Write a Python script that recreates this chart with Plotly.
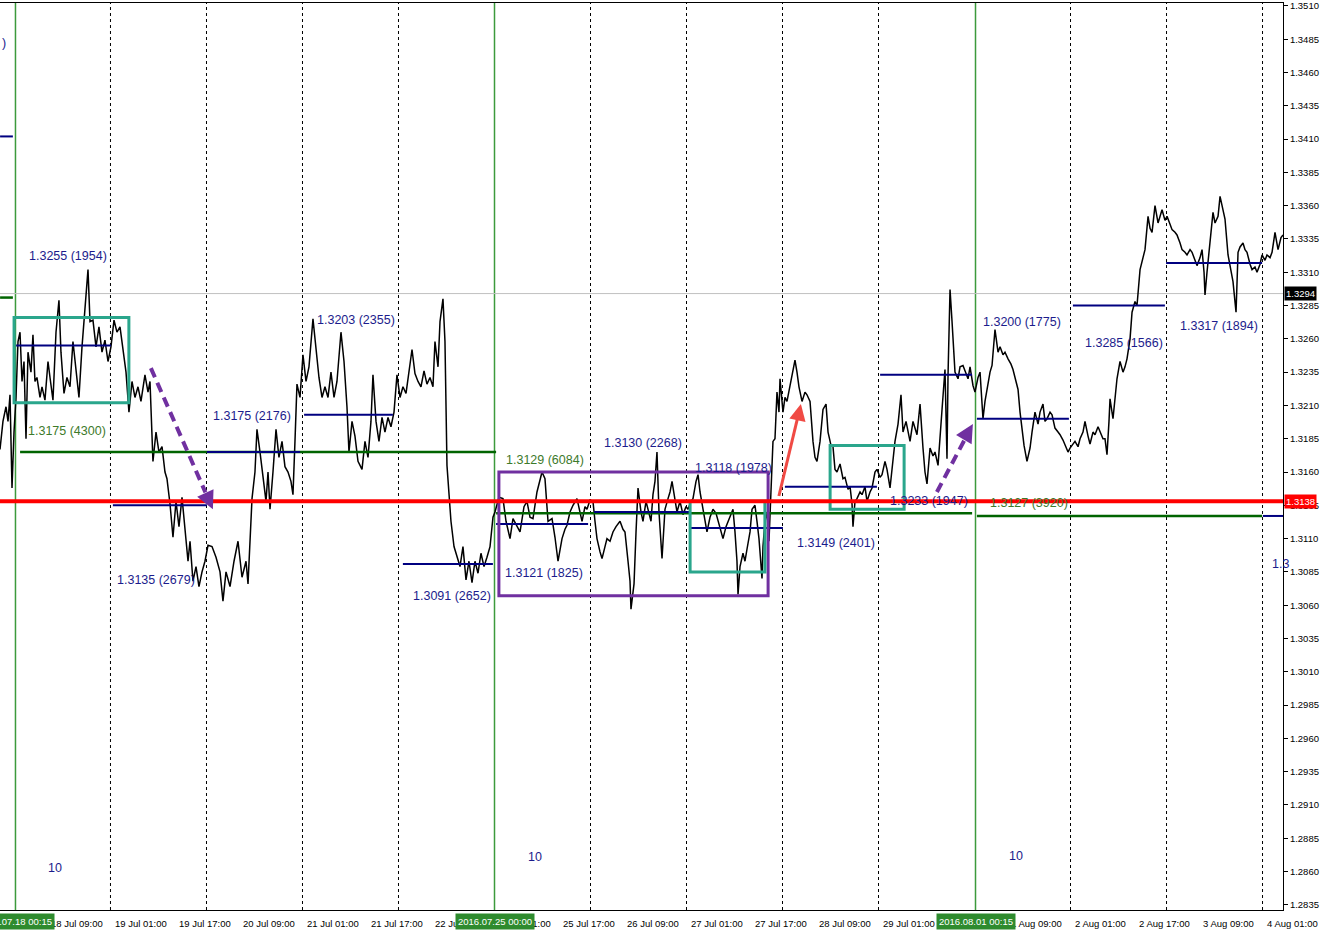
import plotly.graph_objects as go
from datetime import datetime, timedelta

# ---------------- data ----------------
# time in trading hours since Mon 2016-07-18 00:00 (weekends removed), price
price_hours = [
    -3.62, -2.88, -2.12, -1.62, -1.12, -0.62, -0.12,
    0.38, 0.88, 1.38, 1.88, 2.38, 2.88, 3.38, 4.12, 4.62, 5.12, 5.62, 6.38, 6.88, 7.62,
    8.38, 8.88, 9.62, 10.38, 11.12, 11.62, 12.38, 13.12, 13.88, 14.62, 15.38, 16.12, 16.88,
    17.62, 18.38, 18.88, 19.62, 20.38, 21.12, 21.88, 22.62, 23.38, 24.12, 24.88, 25.62,
    26.38, 27.12, 27.88, 28.62, 29.38, 30.12, 30.88, 31.62, 32.62, 33.38, 33.88, 34.62,
    35.38, 36.12, 36.88, 37.62, 38.12, 38.88, 39.62, 40.38, 41.12, 41.88, 42.62, 43.38,
    43.88, 44.62, 45.38, 46.12, 46.88, 47.62, 48.38, 49.38, 50.38, 51.38, 52.12, 52.88,
    53.88, 54.88, 55.88, 56.88, 57.88, 58.38, 58.88, 59.38, 60.12, 60.62, 61.38, 62.12,
    62.88, 63.38, 63.88, 64.62, 65.38, 66.12, 66.88, 67.62, 68.38, 69.12, 69.62, 70.12,
    70.62, 71.38, 72.12, 72.88, 73.62, 74.62, 75.38, 76.12, 76.88, 77.62, 78.38, 79.12,
    79.88, 80.62, 81.62, 82.38, 83.12, 83.62, 84.38, 85.12, 85.88, 86.88, 87.62, 88.38,
    89.12, 89.62, 90.38, 91.12, 91.88, 92.62, 93.38, 94.12, 94.88, 95.62, 96.38, 97.12,
    97.88, 98.62, 99.38, 100.12, 100.88, 101.62, 102.38, 103.12, 103.88, 104.62, 105.12,
    105.88, 106.38, 107.12, 107.62, 108.12, 108.62, 109.12, 109.88, 110.62, 111.38, 112.12,
    112.88, 113.62, 114.38, 115.12, 115.88, 116.62, 117.38, 118.12, 118.88, 119.62,
    120.12, 121.12, 122.12, 122.88, 123.88, 124.62, 125.62, 126.38, 127.38, 128.12, 128.88,
    129.62, 130.62, 131.38, 131.88, 132.62, 133.38, 134.38, 135.12, 135.88, 136.88, 137.62,
    138.12, 138.88, 139.62, 140.62, 141.38, 141.88, 142.62, 143.12, 143.88, 144.62, 145.12,
    145.62, 146.38, 146.88, 147.62, 148.12, 148.88, 149.62, 150.38, 151.38, 152.12, 152.62,
    153.38, 153.88, 154.12, 154.88, 155.38, 155.88, 156.62, 157.12, 157.88, 158.38, 159.12,
    159.62, 160.12, 160.62, 161.12, 161.88, 162.62, 163.38, 163.88, 164.38, 165.12, 165.62,
    166.38, 167.12, 167.88, 168.38, 169.12, 169.62, 170.38, 170.88, 171.38, 171.88, 172.62,
    173.12, 173.88, 174.62, 175.38, 175.88, 176.62, 177.12, 177.88, 178.38, 179.12, 179.62,
    180.12, 180.62, 180.88, 181.38, 182.12, 182.62, 183.12, 183.88, 184.38, 185.12, 185.62,
    186.12, 186.88, 187.12, 187.62, 188.12, 188.62, 189.12, 189.62, 190.12, 190.62, 191.12,
    191.38, 192.12, 192.62, 193.12, 193.88, 194.38, 195.12, 195.62, 196.12, 196.88, 197.62,
    198.12, 198.88, 199.62, 200.12, 200.62, 201.38, 202.12, 202.88, 203.38, 204.12, 204.62,
    205.12, 205.62, 206.38, 207.12, 207.62, 208.38, 208.88, 209.38, 209.62, 210.12, 210.62,
    211.38, 211.88, 212.62, 213.12, 213.88, 214.38, 215.12, 215.62, 216.38, 216.88, 217.62,
    218.12, 218.88, 219.62, 220.12, 220.88, 221.62, 222.12, 222.88, 223.88, 224.62, 225.62,
    226.38, 227.12, 227.62, 228.12, 228.88, 229.62, 230.12, 230.88, 231.38, 231.88, 232.62,
    233.12, 233.38, 233.88, 234.38, 234.62, 235.12, 235.88, 236.38, 237.12, 237.88, 238.38,
    238.88, 239.62,
    240.12, 240.88, 241.38, 242.12, 242.62, 243.12, 243.88, 244.38, 245.12, 245.88, 246.38,
    247.12, 247.62, 248.38, 249.12, 249.62, 250.38, 250.88, 251.38, 251.88, 252.38, 253.12,
    253.88, 254.38, 255.12, 255.88, 256.38, 257.12, 257.62, 258.12, 258.88, 259.38, 260.12,
    260.88, 261.38, 262.12, 262.62, 263.38, 263.88, 264.62, 265.12, 265.88, 266.38, 267.12,
    267.62, 268.38, 268.88, 269.62, 270.12, 270.88, 271.38, 272.12, 272.62, 273.12, 273.62,
    273.88, 274.62, 275.12, 275.62, 276.38, 277.12, 277.62, 278.12, 278.88, 279.38, 280.12,
    280.62, 281.38, 282.12, 282.62, 283.38, 283.88, 284.38, 285.12, 285.88, 286.38, 286.88,
    287.62, 288.12, 288.88, 289.38, 290.12, 290.62, 291.38, 291.88, 292.62, 293.12, 293.88,
    294.38, 295.12, 295.62, 296.38, 296.88, 297.38, 297.62, 298.12, 298.38, 298.88, 299.62,
    300.12, 300.88, 301.38, 301.88, 302.62, 303.38, 303.88, 304.62, 305.38, 305.88, 306.38,
    307.12, 307.62, 308.12, 308.88, 309.38, 310.12, 310.62, 311.38, 311.88, 312.62, 313.12,
    313.88, 314.38, 315.12, 315.88, 316.62, 317.12,
]
price_values = [
    1.3177, 1.3198, 1.3209, 1.3198, 1.3218, 1.3148, 1.3190,
    1.3216, 1.3258, 1.3265, 1.3228, 1.3243, 1.3185, 1.3250, 1.3235, 1.3263, 1.3228, 1.3231, 1.3216, 1.3224, 1.3214,
    1.3243, 1.3231, 1.3214, 1.3265, 1.3289, 1.3250, 1.3219, 1.3231, 1.3224, 1.3258, 1.3239, 1.3216, 1.3254,
    1.3280, 1.3312, 1.3273, 1.3274, 1.3254, 1.3269, 1.3250, 1.3259, 1.3243, 1.3254, 1.3274, 1.3265,
    1.3269, 1.3250, 1.3235, 1.3205, 1.3228, 1.3216, 1.3224, 1.3213, 1.3233, 1.3220, 1.3228, 1.3168,
    1.3190, 1.3175, 1.3179, 1.3160, 1.3155, 1.3136, 1.3111, 1.3138, 1.3119, 1.3141, 1.3115, 1.3093,
    1.3108, 1.3078, 1.3089, 1.3074, 1.3085, 1.3093, 1.3105, 1.3104, 1.3096, 1.3085, 1.3063, 1.3085,
    1.3074, 1.3093, 1.3108, 1.3081, 1.3093, 1.3076, 1.3108, 1.3140, 1.3160, 1.3192, 1.3175, 1.3157,
    1.3138, 1.3160, 1.3132, 1.3160, 1.3192, 1.3171, 1.3183, 1.3164, 1.3160, 1.3153, 1.3143, 1.3183,
    1.3226, 1.3216, 1.3248, 1.3228, 1.3239, 1.3275, 1.3250, 1.3231, 1.3216, 1.3224, 1.3216, 1.3235,
    1.3216, 1.3228, 1.3265, 1.3243, 1.3209, 1.3175, 1.3198, 1.3187, 1.3168, 1.3162, 1.3183, 1.3171,
    1.3198, 1.3233, 1.3198, 1.3183, 1.3201, 1.3190, 1.3201, 1.3194, 1.3205, 1.3233, 1.3216, 1.3224,
    1.3219, 1.3235, 1.3252, 1.3234, 1.3228, 1.3224, 1.3236, 1.3226, 1.3231, 1.3224, 1.3258,
    1.3239, 1.3273, 1.3290, 1.3258, 1.3165, 1.3145, 1.3123, 1.3104, 1.3096, 1.3089, 1.3104,
    1.3079, 1.3093, 1.3077, 1.3093, 1.3084, 1.3099, 1.3089, 1.3096, 1.3104, 1.3126,
    1.3130, 1.3141, 1.3140, 1.3123, 1.3110, 1.3125, 1.3119, 1.3115, 1.3134, 1.3138, 1.3126,
    1.3125, 1.3145, 1.3153, 1.3160, 1.3155, 1.3123, 1.3125, 1.3111, 1.3093, 1.3110, 1.3117,
    1.3120, 1.3130, 1.3135, 1.3140, 1.3129, 1.3123, 1.3134, 1.3132, 1.3139, 1.3138, 1.3123,
    1.3110, 1.3100, 1.3095, 1.3104, 1.3110, 1.3108, 1.3115, 1.3119, 1.3123, 1.3117, 1.3115,
    1.3093, 1.3078, 1.3057, 1.3076, 1.3115, 1.3148, 1.3130, 1.3123, 1.3138, 1.3132, 1.3123,
    1.3143, 1.3153, 1.3175, 1.3130, 1.3095, 1.3132, 1.3140, 1.3145, 1.3153, 1.3138, 1.3130,
    1.3138, 1.3128, 1.3134, 1.3132, 1.3138, 1.3140, 1.3153, 1.3158, 1.3145, 1.3136, 1.3123,
    1.3115, 1.3126, 1.3132, 1.3129, 1.3123, 1.3115, 1.3110, 1.3119, 1.3123, 1.3129, 1.3132,
    1.3115, 1.3093, 1.3068, 1.3089, 1.3099, 1.3093, 1.3102, 1.3115, 1.3132, 1.3135, 1.3123,
    1.3110, 1.3080, 1.3104, 1.3123, 1.3130, 1.3108, 1.3145, 1.3183, 1.3185, 1.3220, 1.3205,
    1.3230, 1.3205, 1.3216, 1.3213, 1.3224, 1.3231, 1.3244, 1.3235, 1.3224, 1.3213, 1.3220,
    1.3218, 1.3213, 1.3183, 1.3171, 1.3168, 1.3183, 1.3207, 1.3211, 1.3190, 1.3180, 1.3179,
    1.3162, 1.3160, 1.3166, 1.3155, 1.3156, 1.3147, 1.3149, 1.3136, 1.3119, 1.3138, 1.3140,
    1.3145, 1.3143, 1.3149, 1.3138, 1.3145, 1.3148, 1.3160, 1.3162, 1.3156, 1.3158, 1.3168,
    1.3162, 1.3148, 1.3171, 1.3183, 1.3196, 1.3218, 1.3190, 1.3198, 1.3183, 1.3198, 1.3188,
    1.3211, 1.3178, 1.3160, 1.3151, 1.3178, 1.3172, 1.3175, 1.3165, 1.3190, 1.3207, 1.3237,
    1.3170, 1.3233, 1.3297, 1.3273, 1.3258, 1.3235, 1.3230, 1.3239, 1.3240, 1.3234, 1.3230,
    1.3239, 1.3225,
    1.3220, 1.3231, 1.3235, 1.3200, 1.3213, 1.3222, 1.3235, 1.3240, 1.3267, 1.3250, 1.3254,
    1.3248, 1.3250, 1.3245, 1.3241, 1.3237, 1.3228, 1.3222, 1.3205, 1.3190, 1.3180, 1.3168,
    1.3178, 1.3190, 1.3205, 1.3196, 1.3205, 1.3211, 1.3198, 1.3200, 1.3205, 1.3203, 1.3193,
    1.3190, 1.3188, 1.3184, 1.3180, 1.3175, 1.3178, 1.3181, 1.3183, 1.3179, 1.3185, 1.3190,
    1.3198, 1.3187, 1.3181, 1.3190, 1.3188, 1.3194, 1.3190, 1.3185, 1.3185, 1.3173, 1.3198,
    1.3215, 1.3200, 1.3216, 1.3230, 1.3243, 1.3235, 1.3239, 1.3245, 1.3260, 1.3280, 1.3288,
    1.3285, 1.3312, 1.3321, 1.3327, 1.3352, 1.3343, 1.3340, 1.3360, 1.3347, 1.3353, 1.3357,
    1.3349, 1.3352, 1.3346, 1.3342, 1.3340, 1.3338, 1.3332, 1.3327, 1.3325, 1.3323, 1.3327,
    1.3325, 1.3319, 1.3315, 1.3321, 1.3327, 1.3310, 1.3293, 1.3310, 1.3317, 1.3332, 1.3355,
    1.3347, 1.3352, 1.3367, 1.3359, 1.3350, 1.3323, 1.3314, 1.3303, 1.3280, 1.3325, 1.3329,
    1.3332, 1.3327, 1.3325, 1.3316, 1.3312, 1.3314, 1.3310, 1.3316, 1.3323, 1.3319, 1.3323,
    1.3321, 1.3325, 1.3340, 1.3327, 1.3336, 1.3338,
]

# daily levels (navy) : start hour, end hour, level
daily_start = [-3.6, 0.4, 24.6, 48.1, 72.4, 97.1, 120.4, 144.9, 168.9, 192.6, 216.4, 240.6, 264.6, 287.9, 312.1]
daily_end = [-0.4, 24.1, 48.1, 71.4, 94.6, 119.6, 143.4, 168.9, 192.1, 215.6, 239.4, 263.6, 287.6, 311.9, 317.2]
daily_level = [1.3412, 1.3255, 1.3135, 1.3175, 1.3203, 1.3091, 1.3121, 1.3130, 1.3118, 1.3149, 1.3233,
               1.3200, 1.3285, 1.3317, 1.3127]

# weekly levels (dark green)
weekly_start = [-3.6, 1.4, 120.4, 240.6]
weekly_end = [-0.4, 120.4, 239.4, 311.9]
weekly_level = [1.3291, 1.3175, 1.3129, 1.3127]

# level labels
label_text = [")", "1.3255 (1954)", "1.3175 (4300)", "1.3135 (2679)", "1.3175 (2176)", "1.3203 (2355)",
              "1.3091 (2652)", "1.3129 (6084)", "1.3121 (1825)", "1.3130 (2268)", "1.3118 (1978)",
              "1.3149 (2401)", "1.3233 (1947)", "1.3127 (3920)", "1.3200 (1775)", "1.3285 (1566)",
              "1.3317 (1894)", "1.3"]
label_hours = [-3.6, 3.1, 2.9, 25.1, 49.1, 75.1, 99.1, 122.4, 122.1, 146.9, 169.6, 195.1, 218.4, 243.4,
               241.6, 267.1, 290.9, 313.9]
label_price = [1.3482, 1.3322, 1.3191, 1.3079, 1.3202, 1.3274, 1.3067, 1.3169, 1.3084, 1.3182, 1.3163,
               1.3107, 1.3138, 1.3137, 1.3273, 1.3257, 1.3270, 1.3091]
label_weekly = [False, False, True, False, False, False, False, True, False, False, False, False, False,
                True, False, False, False, False]

# week counters
count_text = ["10", "10", "10"]
count_hours = [10.1, 130.1, 250.4]
count_price = [1.2863, 1.2871, 1.2872]

# week-start vertical lines and their labels
week_line_hours = [0.25, 120.0, 240.25]
week_line_text = ["2016.07.18 00:15", "2016.07.25 00:00", "2016.08.01 00:15"]

# day separators
separator_hours = [24, 48, 72, 96, 144, 168, 192, 216, 264, 288, 312]

# time-axis labels
tick_hours = [9, 25, 41, 57, 73, 89, 105, 121, 137, 153, 169, 185, 201, 217, 233, 249, 265, 281, 297, 313]
tick_text = ["18 Jul 09:00", "19 Jul 01:00", "19 Jul 17:00", "20 Jul 09:00", "21 Jul 01:00",
             "21 Jul 17:00", "22 Jul 09:00", "25 Jul 01:00", "25 Jul 17:00", "26 Jul 09:00",
             "27 Jul 01:00", "27 Jul 17:00", "28 Jul 09:00", "29 Jul 01:00", "29 Jul 17:00",
             "1 Aug 09:00", "2 Aug 01:00", "2 Aug 17:00", "3 Aug 09:00", "4 Aug 01:00"]

# boxes: start hour, end hour, low, high
teal_boxes = [(-0.1, 28.6, 1.3212, 1.3276), (168.9, 187.6, 1.3085, 1.3138), (203.9, 222.4, 1.3132, 1.3180)]
purple_boxes = [(121.1, 188.4, 1.3067, 1.3160)]

# arrows: start hour, start price, end hour, end price
purple_arrows = [(34.1, 1.3238, 49.6, 1.3132), (230.6, 1.3145, 239.6, 1.3196)]
red_arrows = [(191.1, 1.3142, 196.6, 1.3211)]

current_price = 1.3294
key_level = 1.3138

x_range_hours = [-3.62, 317.12]
y_range = [1.28311, 1.35122]

# ---------------- helpers ----------------
WEEK0 = datetime(2016, 7, 18)


def ts(h):
    w = int(h // 120)
    return WEEK0 + timedelta(days=7 * w, hours=h - 120 * w)


NAVY = "#1c1c8c"
LEVEL_NAVY = "#000080"
WGREEN = "#006400"
LGREEN = "#3c9a3c"
TEAL = "#2aa68c"
PURPLE = "#7030a0"
RED_ARROW = "#f04a44"

fig = go.Figure()
fig.add_trace(go.Scatter(
    x=[ts(h) for h in price_hours], y=price_values, mode="lines",
    line=dict(color="black", width=1.5), hoverinfo="skip", showlegend=False))

shapes = []
# separators
for h in separator_hours:
    shapes.append(dict(type="line", xref="x", yref="paper", x0=ts(h), x1=ts(h), y0=0, y1=1,
                       line=dict(color="black", width=1, dash="3px,3px"), layer="below"))
for h in week_line_hours:
    shapes.append(dict(type="line", xref="x", yref="paper", x0=ts(h), x1=ts(h), y0=0, y1=1,
                       line=dict(color=LGREEN, width=1.5), layer="below"))
# current price line
shapes.append(dict(type="line", xref="paper", yref="y", x0=0, x1=1, y0=current_price, y1=current_price,
                   line=dict(color="#c0c0c0", width=1), layer="below"))
for s, e, v in zip(weekly_start, weekly_end, weekly_level):
    shapes.append(dict(type="line", x0=ts(s), x1=ts(e), y0=v, y1=v, line=dict(color=WGREEN, width=2.5)))
for s, e, v in zip(daily_start, daily_end, daily_level):
    shapes.append(dict(type="line", x0=ts(s), x1=ts(e), y0=v, y1=v, line=dict(color=LEVEL_NAVY, width=2)))
for s, e, lo, hi in purple_boxes:
    shapes.append(dict(type="rect", x0=ts(s), x1=ts(e), y0=lo, y1=hi, line=dict(color=PURPLE, width=3)))
for s, e, lo, hi in teal_boxes:
    shapes.append(dict(type="rect", x0=ts(s), x1=ts(e), y0=lo, y1=hi, line=dict(color=TEAL, width=3)))
shapes.append(dict(type="line", xref="paper", yref="y", x0=0, x1=1, y0=key_level, y1=key_level,
                   line=dict(color="#ff0000", width=4)))
for s, sp, e, ep in purple_arrows:
    shapes.append(dict(type="line", x0=ts(s), y0=sp, x1=ts(s + (e - s) * 0.88), y1=sp + (ep - sp) * 0.88,
                       line=dict(color=PURPLE, width=4, dash="10px,6px")))
for s, sp, e, ep in red_arrows:
    shapes.append(dict(type="line", x0=ts(s), y0=sp, x1=ts(s + (e - s) * 0.85), y1=sp + (ep - sp) * 0.85,
                       line=dict(color=RED_ARROW, width=3)))

annotations = []
# arrow heads
head_offsets = [(-6, -13), (-7, 12)]
for (s, sp, e, ep), (axo, ayo) in zip(purple_arrows, head_offsets):
    annotations.append(dict(x=ts(e), y=ep, text="", showarrow=True, arrowhead=2, arrowsize=0.9,
                            arrowwidth=4, arrowcolor=PURPLE, ax=axo, ay=ayo))
for s, sp, e, ep in red_arrows:
    annotations.append(dict(x=ts(e), y=ep, text="", showarrow=True, arrowhead=2, arrowsize=1.1,
                            arrowwidth=3, arrowcolor=RED_ARROW, ax=-3, ay=14))

for t, h, p, wk in zip(label_text, label_hours, label_price, label_weekly):
    annotations.append(dict(x=ts(h), y=p, text=t, showarrow=False, xanchor="left", yanchor="middle",
                            font=dict(family="Liberation Sans, Arial", size=12.5,
                                      color="#3d7a2a" if wk else NAVY)))
for t, h, p in zip(count_text, count_hours, count_price):
    annotations.append(dict(x=ts(h), y=p, text=t, showarrow=False, xanchor="center", yanchor="middle",
                            font=dict(family="Liberation Sans Narrow, Liberation Sans", size=12.5, color=NAVY)))
for h, t in zip(week_line_hours, week_line_text):
    annotations.append(dict(x=ts(h), y=0, yref="paper", yanchor="top", xanchor="center", yshift=-3,
                            text=t, showarrow=False, bgcolor="#2e8b2e", borderpad=2,
                            font=dict(family="Liberation Sans, Arial", size=9.5, color="white")))
# price labels on the axis
annotations.append(dict(x=1, xref="paper", y=current_price, xanchor="left", yanchor="middle",
                        text="1.3294", showarrow=False, bgcolor="black", borderpad=1, xshift=1,
                        font=dict(family="Liberation Sans, Arial", size=9.5, color="white")))
annotations.append(dict(x=1, xref="paper", y=key_level, xanchor="left", yanchor="middle",
                        text="1.3138", showarrow=False, bgcolor="#ff0000", borderpad=1, xshift=1,
                        font=dict(family="Liberation Sans, Arial", size=9.5, color="white")))

fig.update_layout(
    width=1325, height=935,
    margin=dict(l=0, r=42, t=0, b=25),
    paper_bgcolor="white", plot_bgcolor="white",
    shapes=shapes, annotations=annotations, showlegend=False,
    xaxis=dict(
        type="date",
        range=[ts(x_range_hours[0]), ts(x_range_hours[1])],
        rangebreaks=[dict(bounds=["sat", "mon"])],
        tickvals=[ts(h) for h in tick_hours], ticktext=tick_text,
        ticklabelposition="outside right", ticklabelstandoff=5,
        ticks="", showgrid=False, zeroline=False,
        showline=True, linecolor="black", linewidth=1, mirror=True,
        tickfont=dict(family="Liberation Sans, Arial", size=9.5, color="black"),
    ),
    yaxis=dict(
        side="right", range=y_range,
        tick0=1.2835, dtick=0.0025, tickformat=".4f",
        ticks="outside", ticklen=4, tickcolor="black",
        ticklabeloverflow="allow",
        showgrid=False, zeroline=False,
        showline=True, linecolor="black", linewidth=1,
        tickfont=dict(family="Liberation Sans, Arial", size=9.5, color="black"),
    ),
)

fig.write_html("out.html", config={"displayModeBar": False},
               post_script="document.body.style.margin='0';document.body.style.overflow='hidden';")
